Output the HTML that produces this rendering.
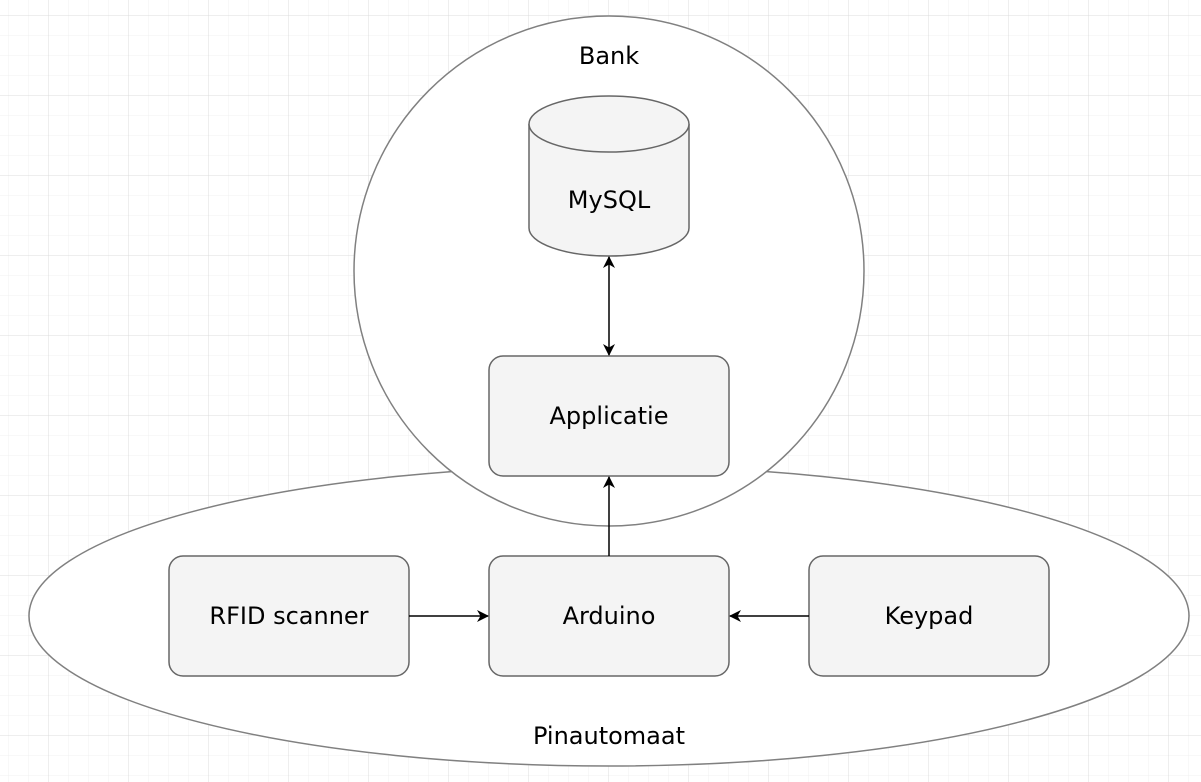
<!DOCTYPE html>
<html><head><style>
html,body{margin:0;padding:0;background:#fff;}
svg{display:block;}
svg text{font-family:"DejaVu Sans","Liberation Sans",sans-serif;font-size:24px;fill:#000;}
</style></head><body>
<svg width="1201" height="782" xmlns="http://www.w3.org/2000/svg">
<defs>
<pattern id="minor" x="8" y="15" width="20" height="20" patternUnits="userSpaceOnUse">
<path d="M0 0H20M0 0V20" stroke="#f0f0f0" stroke-width="1" fill="none"/>
</pattern>
<pattern id="major" x="48" y="15" width="80" height="80" patternUnits="userSpaceOnUse">
<path d="M0 0H80M0 0V80" stroke="#dcdcdc" stroke-width="1" fill="none"/>
</pattern>
<marker id="ah" markerWidth="12" markerHeight="12" refX="11" refY="6" orient="auto" markerUnits="userSpaceOnUse">
<path d="M0,0 L12,6 L0,12 L3.5,6 Z" fill="#000"/>
</marker>
<marker id="ahs" markerWidth="12" markerHeight="12" refX="1" refY="6" orient="auto" markerUnits="userSpaceOnUse">
<path d="M12,0 L0,6 L12,12 L8.5,6 Z" fill="#000"/>
</marker>
</defs>
<rect width="1201" height="782" fill="url(#minor)"/>
<rect width="1201" height="782" fill="url(#major)"/>
<ellipse cx="609" cy="616" rx="580" ry="150" fill="#fff" stroke="#808080" stroke-width="1.5"/>
<circle cx="609" cy="271" r="255" fill="#fff" stroke="#808080" stroke-width="1.5"/>
<text x="609" y="64" text-anchor="middle" font-size="24">Bank</text>
<text x="609" y="744" text-anchor="middle" font-size="24">Pinautomaat</text>
<path d="M529 124 V228 A80 28 0 0 0 689 228 V124" fill="#f4f4f4" stroke="#666" stroke-width="1.5"/>
<ellipse cx="609" cy="124" rx="80" ry="28" fill="#f4f4f4" stroke="#666" stroke-width="1.5"/>
<text x="609" y="208" text-anchor="middle" font-size="24">MySQL</text>
<rect x="489" y="356" width="240" height="120" rx="14" fill="#f4f4f4" stroke="#666" stroke-width="1.5"/>
<text x="609" y="424" text-anchor="middle" font-size="24">Applicatie</text>
<rect x="169" y="556" width="240" height="120" rx="14" fill="#f4f4f4" stroke="#666" stroke-width="1.5"/>
<text x="289" y="624" text-anchor="middle" font-size="24">RFID scanner</text>
<rect x="489" y="556" width="240" height="120" rx="14" fill="#f4f4f4" stroke="#666" stroke-width="1.5"/>
<text x="609" y="624" text-anchor="middle" font-size="24">Arduino</text>
<rect x="809" y="556" width="240" height="120" rx="14" fill="#f4f4f4" stroke="#666" stroke-width="1.5"/>
<text x="929" y="624" text-anchor="middle" font-size="24">Keypad</text>
<g stroke="#000" stroke-width="1.5" fill="none">
<line x1="609" y1="257" x2="609" y2="355" marker-start="url(#ahs)" marker-end="url(#ah)"/>
<line x1="609" y1="556" x2="609" y2="477" marker-end="url(#ah)"/>
<line x1="409" y1="616" x2="488" y2="616" marker-end="url(#ah)"/>
<line x1="809" y1="616" x2="730" y2="616" marker-end="url(#ah)"/>
</g>
</svg>
</body></html>
